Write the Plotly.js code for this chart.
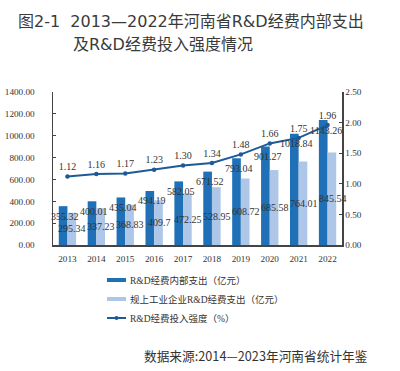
<!DOCTYPE html>
<html>
<head>
<meta charset="utf-8">
<script src="https://cdn.plot.ly/plotly-3.0.1.min.js"></script>
<style>html,body{margin:0;padding:0;background:#fff;}#chart{width:400px;height:371px;}</style>
</head>
<body>
<div id="chart"></div>
<script>
// ---- data ----
const years = ['2013','2014','2015','2016','2017','2018','2019','2020','2021','2022'];
const rdInternal = [355.32, 400.01, 435.04, 494.19, 582.05, 671.52, 793.04, 901.27, 1018.84, 1143.26];
const rdIndustry = [295.34, 337.23, 368.83, 409.7, 472.25, 528.95, 608.72, 685.58, 764.01, 845.54];
const rdIntensity = [1.12, 1.16, 1.17, 1.23, 1.30, 1.34, 1.48, 1.66, 1.75, 1.96];
const rdIntensityLabels = ['1.12','1.16','1.17','1.23','1.30','1.34','1.48','1.66','1.75','1.96'];
const seriesNames = ['R&D经费内部支出（亿元）', '规上工业企业R&D经费支出（亿元）', 'R&D经费投入强度（%）'];
const titleLine1 = '图2-1  2013—2022年河南省R&D经费内部支出';
const titleLine2 = '及R&D经费投入强度情况';
const sourceText = '数据来源:2014—2023年河南省统计年鉴';

// ---- style ----
const W = 400, H = 371;
const M = {l: 53, r: 58, t: 92, b: 126};
const PW = W - M.l - M.r, PH = H - M.t - M.b;
const px2x = px => (px - M.l) / PW;
const py2y = py => (H - M.b - py) / PH;
const cDark = '#1f70b6', cLight = '#aec6e7', cLine = '#1d5a98', cText = '#333333';
const serif = 'Liberation Serif, Times New Roman, Noto Sans CJK SC, serif';
const sans = 'Noto Sans CJK SC, Noto Sans, sans-serif';
const titleFont = 'DejaVu Sans, Noto Sans CJK SC, sans-serif';

const traces = [
  {type: 'bar', x: years, y: rdInternal, name: seriesNames[0], marker: {color: cDark}, hoverinfo: 'none'},
  {type: 'bar', x: years, y: rdIndustry, name: seriesNames[1], marker: {color: cLight}, hoverinfo: 'none'},
  {type: 'scatter', mode: 'lines+markers+text', x: years, y: rdIntensity, yaxis: 'y2', name: seriesNames[2],
   text: rdIntensityLabels, textposition: 'top center', textfont: {family: serif, size: 10, color: cText},
   line: {color: cLine, width: 2}, marker: {color: cLine, size: 4.5}, cliponaxis: false, hoverinfo: 'none'}
];

const annotations = [];
years.forEach((yr, i) => {
  annotations.push({xref: 'x', yref: 'y', x: i, y: rdInternal[i], text: rdInternal[i].toFixed(2),
    showarrow: false, xanchor: 'center', yanchor: 'middle', yshift: -10, xshift: -2,
    font: {family: serif, size: 10, color: cText}});
  annotations.push({xref: 'x', yref: 'y', x: i, y: rdIndustry[i] / 2, text: String(rdIndustry[i]),
    showarrow: false, xanchor: 'center', yanchor: 'middle', xshift: 5,
    font: {family: serif, size: 10, color: cText}});
});
annotations.push({xref: 'paper', yref: 'paper', x: px2x(16), y: py2y(21), xanchor: 'left', yanchor: 'middle',
  text: titleLine1, showarrow: false, font: {family: titleFont, size: 16, color: '#3a3a3a'}});
annotations.push({xref: 'paper', yref: 'paper', x: px2x(71), y: py2y(44), xanchor: 'left', yanchor: 'middle',
  text: titleLine2, showarrow: false, font: {family: titleFont, size: 16, color: '#3a3a3a'}});
annotations.push({xref: 'paper', yref: 'paper', x: px2x(370), y: py2y(355), xanchor: 'right', yanchor: 'middle',
  text: sourceText, showarrow: false, font: {family: sans, size: 12.7, color: '#333333'}});

// custom legend
const legRows = [280, 299, 318];
const shapes = [];
shapes.push({type: 'rect', xref: 'paper', yref: 'paper', x0: px2x(107), x1: px2x(126), y0: py2y(legRows[0] + 2), y1: py2y(legRows[0] - 2), fillcolor: cDark, line: {width: 0}});
shapes.push({type: 'rect', xref: 'paper', yref: 'paper', x0: px2x(107), x1: px2x(126), y0: py2y(legRows[1] + 2), y1: py2y(legRows[1] - 2), fillcolor: cLight, line: {width: 0}});
shapes.push({type: 'line', xref: 'paper', yref: 'paper', x0: px2x(107), x1: px2x(126), y0: py2y(legRows[2]), y1: py2y(legRows[2]), line: {color: cLine, width: 2}});
shapes.push({type: 'circle', xref: 'paper', yref: 'paper', x0: px2x(114.5), x1: px2x(118.5), y0: py2y(legRows[2] + 2), y1: py2y(legRows[2] - 2), fillcolor: cLine, line: {width: 0}});
seriesNames.forEach((n, i) => {
  annotations.push({xref: 'paper', yref: 'paper', x: px2x(128), y: py2y(legRows[i]), xanchor: 'left', yanchor: 'middle',
    text: n, showarrow: false, font: {family: serif, size: 9.5, color: cText}});
});

const axisCommon = {showgrid: false, zeroline: false, showline: true, linecolor: '#444', linewidth: 1.5,
  tickfont: {family: serif, size: 9.2, color: cText}};

const layout = {
  width: W, height: H, margin: M, paper_bgcolor: '#fff', plot_bgcolor: '#fff',
  showlegend: false, barmode: 'group', bargap: 0.4, bargroupgap: 0,
  xaxis: Object.assign({}, axisCommon, {type: 'category', range: [-0.5, 9.5], ticks: '', linewidth: 1.5,
    ticklabelstandoff: 4}),
  yaxis: Object.assign({}, axisCommon, {range: [0, 1400], dtick: 200, tick0: 0, tickformat: '.2f',
    ticks: 'inside', ticklen: 3, tickcolor: '#444', ticklabelstandoff: 15}),
  yaxis2: Object.assign({}, axisCommon, {overlaying: 'y', side: 'right', range: [0, 2.5], dtick: 0.5, tick0: 0,
    tickformat: '.2f', ticks: 'inside', ticklen: 3, tickcolor: '#444'}),
  annotations: annotations, shapes: shapes
};

Plotly.newPlot('chart', traces, layout, {staticPlot: true, displayModeBar: false});
</script>
</body>
</html>
